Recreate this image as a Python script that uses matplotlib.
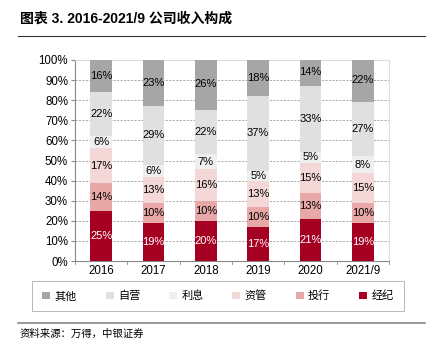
import matplotlib
matplotlib.use("Agg")
import matplotlib.pyplot as plt
import numpy as np
from matplotlib.lines import Line2D
from matplotlib.patches import Patch

plt.rcParams['font.family'] = ['Liberation Sans', 'Noto Sans CJK SC', 'DejaVu Sans']

years = ["2016", "2017", "2018", "2019", "2020", "2021/9"]
# bottom to top
series_names = ["经纪", "投行", "资管", "利息", "自营", "其他"]
jingji = [25, 19, 20, 17, 21, 19]
touhang = [14, 10, 10, 10, 13, 10]
ziguan = [17, 13, 16, 13, 15, 15]
lixi = [6, 6, 7, 5, 5, 8]
ziying = [22, 29, 22, 37, 33, 27]
qita = [16, 23, 26, 18, 14, 22]
series_vals = [jingji, touhang, ziguan, lixi, ziying, qita]
colors = ["#a50021", "#e8a8a8", "#f4d8d8", "#efefef", "#e0e0e0", "#a6a6a6"]
label_colors = ["white", "black", "black", "black", "black", "black"]

fig = plt.figure(figsize=(4.33, 3.51), dpi=100)
W, H = 433, 351
ax = fig.add_axes([75 / W, 1 - 261 / H, 314 / W, 201 / H])

x = np.arange(len(years))
bottom = np.zeros(len(years))
for name, vals, c, lc in zip(series_names, series_vals, colors, label_colors):
    vals = np.array(vals, dtype=float)
    ax.bar(x, vals, 0.42, bottom=bottom, color=c, zorder=3)
    for xi, b, v in zip(x, bottom, vals):
        ax.text(xi, b + v / 2, f"{int(v)}%", ha="center", va="center",
                fontsize=8, color=lc, zorder=4)
    bottom += vals

ax.set_ylim(0, 100)
ax.set_xlim(-0.5, len(years) - 0.5)
ax.set_yticks(range(0, 101, 10))
ax.set_yticklabels([f"{v}%" for v in range(0, 101, 10)], fontsize=8.3)
ax.set_xticks(x)
ax.set_xticklabels(years, fontsize=8.3)
ax.grid(axis="y", color="#888888", linestyle=(0, (3, 2)), linewidth=0.5, zorder=0)
for s in ["top", "right"]:
    ax.spines[s].set_color("#dddddd")
ax.spines["left"].set_color("#888888")
ax.spines["bottom"].set_color("#888888")
ax.tick_params(axis="y", length=3, color="#888888", pad=2)
ax.tick_params(axis="x", length=0, pad=3)
# ticks between categories on x axis
for xb in np.arange(-0.5, len(years), 1.0):
    ax.plot([xb, xb], [0, -1.5], color="#888888", lw=0.6, clip_on=False)

# legend (top-left order: 其他 ... 经纪)
handles = [Patch(facecolor=c, edgecolor="none") for c in colors[::-1]]
leg = fig.legend(handles, series_names[::-1], loc="center",
                 bbox_to_anchor=(218 / W, 1 - 296 / H), ncol=6,
                 frameon=True, fancybox=False,
                 handlelength=0.7, handleheight=0.7, handletextpad=0.4,
                 columnspacing=2.6, borderpad=0.9, borderaxespad=0,
                 prop={'family': ['Noto Sans CJK SC'], 'size': 8})
leg.get_frame().set_edgecolor("#999999")
leg.get_frame().set_linewidth(0.6)

# title and rules
fig.text(20 / W, 1 - 19 / H, "图表 3. 2016-2021/9 公司收入构成", fontsize=10,
         fontweight="bold", family=['Liberation Sans', 'Noto Sans CJK SC'], va="center")
fig.add_artist(Line2D([18 / W, 425 / W], [1 - 36 / H, 1 - 36 / H], color="#333333", lw=0.8))
fig.add_artist(Line2D([18 / W, 425 / W], [1 - 323 / H, 1 - 323 / H], color="#888888", lw=1.2))
fig.text(20 / W, 1 - 334 / H, "资料来源：万得，中银证券", fontsize=7.5, style="italic",
         family=['Noto Sans CJK SC'], va="center")

fig.savefig("out.png", dpi=100)
